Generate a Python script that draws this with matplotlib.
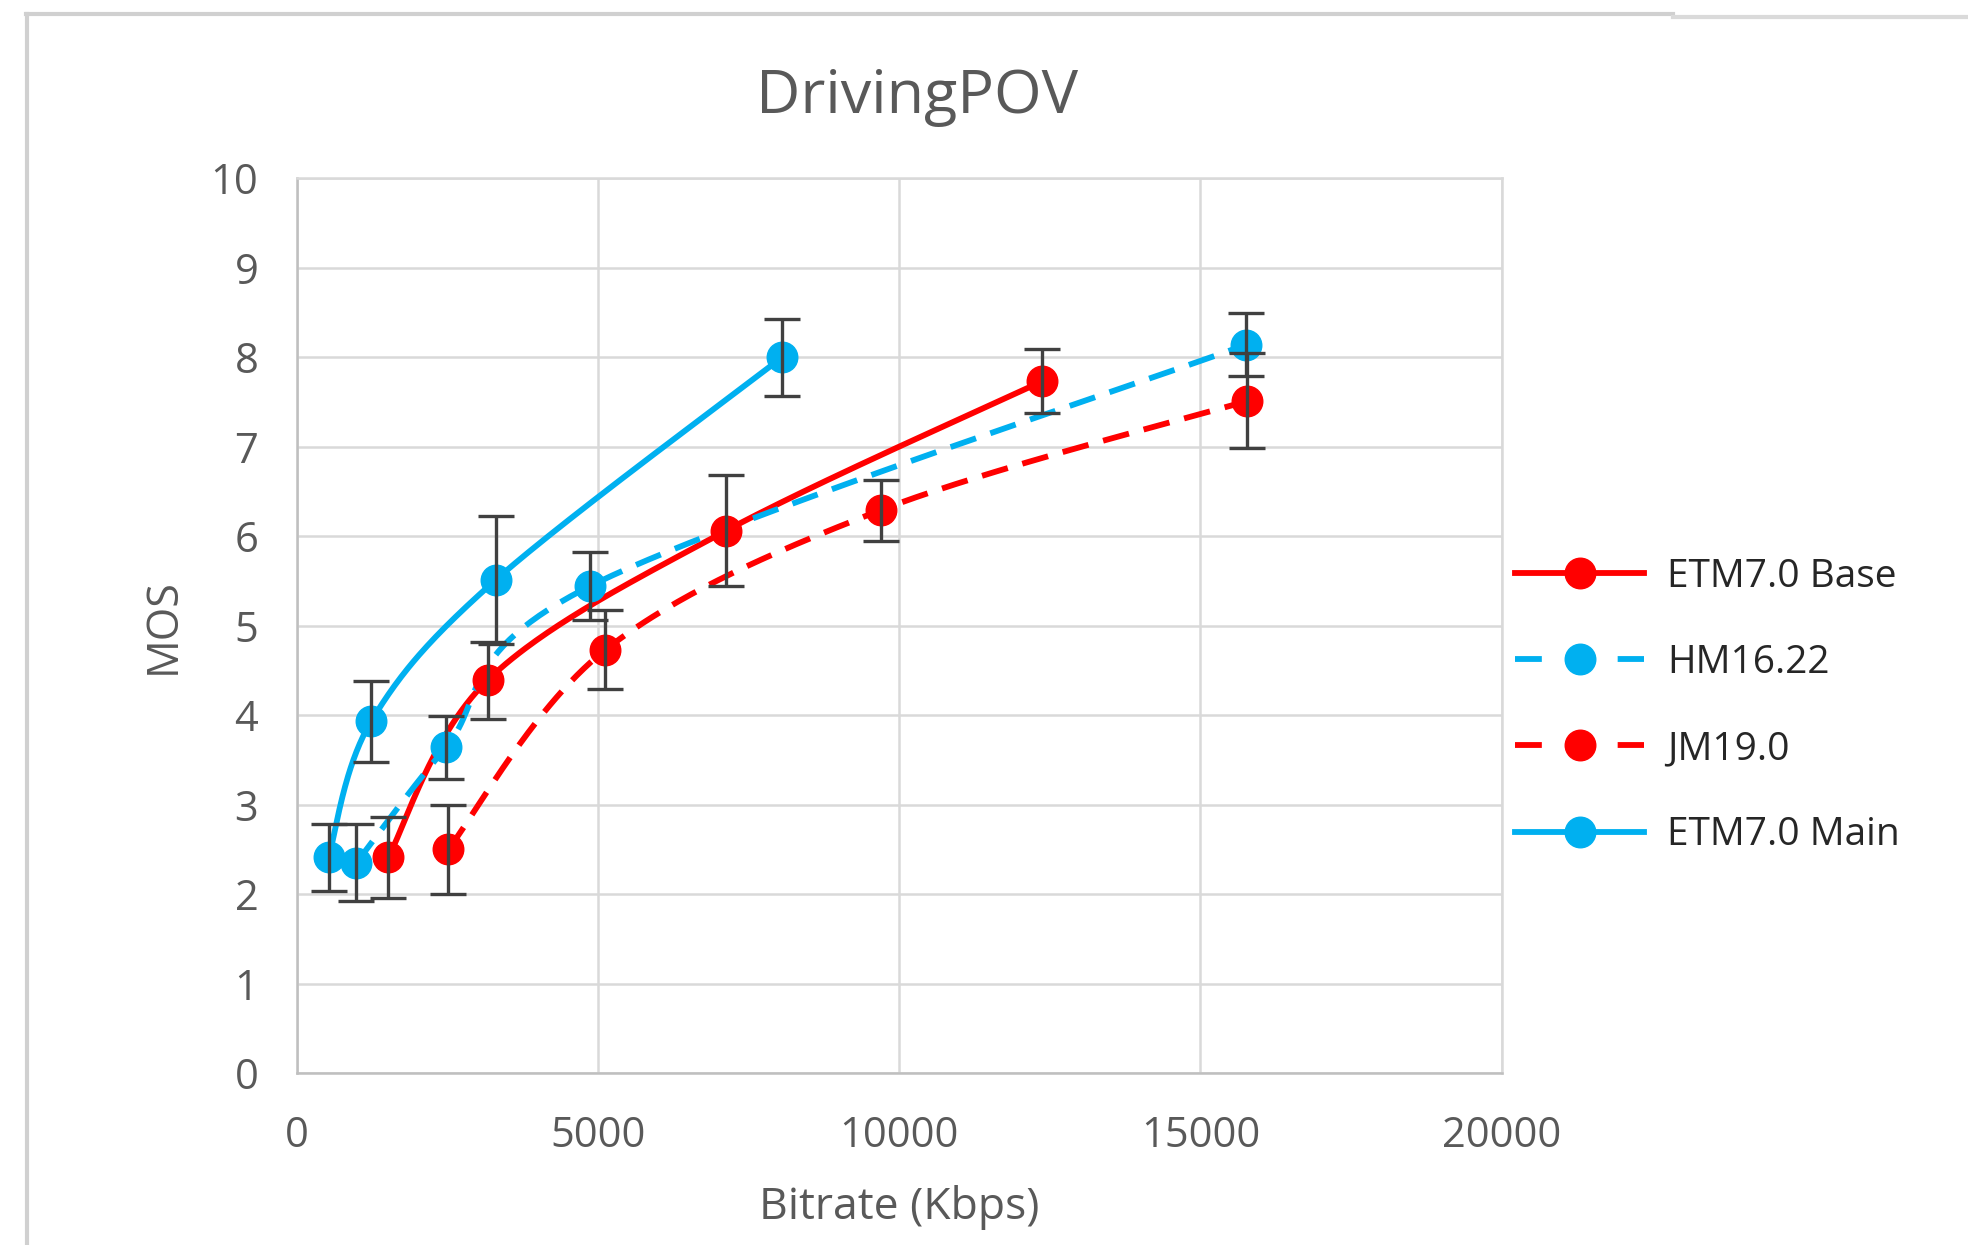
import numpy as np
import matplotlib
matplotlib.use("Agg")
import matplotlib.pyplot as plt
from matplotlib.lines import Line2D

plt.rcParams['font.family'] = ['Open Sans', 'DejaVu Sans']

# data
base_x = [1510, 3162, 7121, 12376]
base_y = [2.41, 4.39, 6.06, 7.73]
base_err = [0.45, 0.43, 0.62, 0.36]

hm_x = [982, 2470, 4859, 15764]
hm_y = [2.35, 3.64, 5.44, 8.14]
hm_err = [0.43, 0.35, 0.38, 0.35]

jm_x = [2507, 5119, 9690, 15780]
jm_y = [2.50, 4.73, 6.29, 7.51]
jm_err = [0.50, 0.44, 0.34, 0.53]

main_x = [521, 1228, 3296, 8057]
main_y = [2.41, 3.93, 5.51, 8.00]
main_err = [0.37, 0.45, 0.71, 0.43]

RED = '#FF0000'
BLUE = '#00B0F0'


def smooth(xs, ys, n=60):
    # excel style smoothed line: cubic bezier, tangents (p[i+1]-p[i-1])/6
    p = np.column_stack([xs, ys]).astype(float)
    out = []
    for i in range(len(p) - 1):
        p0 = p[i - 1] if i > 0 else p[i]
        p1 = p[i]
        p2 = p[i + 1]
        p3 = p[i + 2] if i + 2 < len(p) else p[i + 1]
        c1 = p1 + (p2 - p0) / 6
        c2 = p2 - (p3 - p1) / 6
        t = np.linspace(0, 1, n)[:, None]
        seg = ((1 - t) ** 3) * p1 + 3 * ((1 - t) ** 2) * t * c1 + 3 * (1 - t) * t ** 2 * c2 + t ** 3 * p2
        out.append(seg)
    s = np.vstack(out)
    return s[:, 0], s[:, 1]


fig = plt.figure(figsize=(19.68, 12.45), dpi=100)
ax = fig.add_axes([0.151, 0.138, 0.612, 0.719])

series = [
    ("ETM7.0 Base", base_x, base_y, base_err, RED, '-'),
    ("HM16.22", hm_x, hm_y, hm_err, BLUE, '--'),
    ("JM19.0", jm_x, jm_y, jm_err, RED, '--'),
    ("ETM7.0 Main", main_x, main_y, main_err, BLUE, '-'),
]

LW = 4.2
handles = []
for name, xs, ys, es, col, ls in series:
    sx, sy = smooth(xs, ys)
    if ls == '--':
        ax.plot(sx, sy, color=col, lw=LW, ls=(0, (4.6, 2.6)), zorder=3)
    else:
        ax.plot(sx, sy, color=col, lw=LW, zorder=3)
    ax.plot(xs, ys, 'o', color=col, ms=22, zorder=4)
    ax.errorbar(xs, ys, yerr=es, fmt='none', ecolor='#404040', elinewidth=2.4,
                capsize=13, capthick=2.4, zorder=5)
    if ls == '--':
        h = Line2D([], [], color=col, lw=LW, ls=(0, (4.6, 13.0)), marker='o', ms=22)
    else:
        h = Line2D([], [], color=col, lw=LW, marker='o', ms=22)
    handles.append(h)

ax.set_xlim(0, 20000)
ax.set_ylim(0, 10)
ax.set_xticks(np.arange(0, 20001, 5000))
ax.set_yticks(np.arange(0, 11, 1))
ax.grid(True, color='#D9D9D9', lw=1.8, zorder=0)
ax.set_axisbelow(True)
for sp in ax.spines.values():
    sp.set_color('#D9D9D9')
    sp.set_linewidth(1.8)
ax.spines['left'].set_color('#BFBFBF')
ax.spines['bottom'].set_color('#BFBFBF')
ax.tick_params(length=0, labelsize=30, labelcolor='#595959')
ax.tick_params(axis='x', pad=30)
ax.tick_params(axis='y', pad=28)

fig.text(0.466, 0.922, "DrivingPOV", fontsize=44, color='#595959', ha='center', va='center')
ax.set_xlabel("Bitrate (Kbps)", fontsize=32, color='#595959', labelpad=20)
ax.set_ylabel("MOS", fontsize=31, color='#595959', labelpad=18)

leg = fig.legend(handles, [s[0] for s in series], loc='center left',
                 bbox_to_anchor=(0.770, 0.433), frameon=False, fontsize=28,
                 handlelength=3.3, handletextpad=0.6, labelspacing=1.24,
                 borderaxespad=0, borderpad=0)
for t in leg.get_texts():
    t.set_color('#262626')

# outer chart border (top and left edges visible in the crop)
fig.add_artist(Line2D([0.013, 0.85], [0.989, 0.989], color='#D0D0D0', lw=3, transform=fig.transFigure))
fig.add_artist(Line2D([0.85, 1.0], [0.986, 0.986], color='#DADADA', lw=3, transform=fig.transFigure))
fig.add_artist(Line2D([0.0135, 0.0135], [0.0, 0.989], color='#D0D0D0', lw=3, transform=fig.transFigure))

fig.savefig("out.png", dpi=100, facecolor='white')
